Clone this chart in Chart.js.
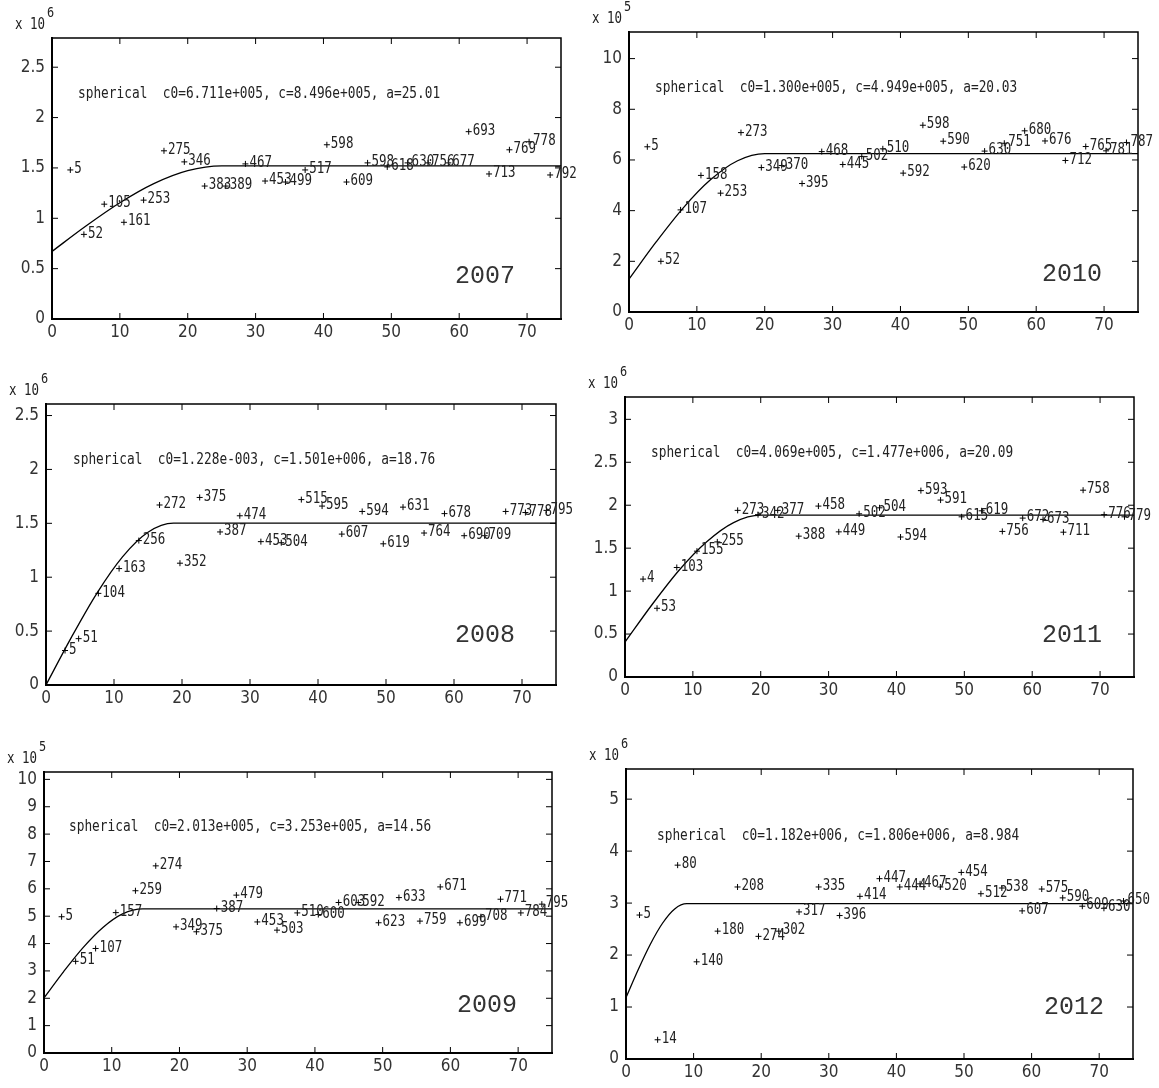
<!DOCTYPE html>
<html>
<head>
<meta charset="utf-8">
<script src="https://cdn.jsdelivr.net/npm/chart.js@4.4.1/dist/chart.umd.min.js"></script>
<style>
  body { margin: 0; background: #fff; overflow: hidden; width: 1159px; height: 1088px; position: relative; }
  canvas { position: absolute; }
</style>
</head>
<body>
<canvas id="c2007"></canvas>
<canvas id="c2010"></canvas>
<canvas id="c2008"></canvas>
<canvas id="c2011"></canvas>
<canvas id="c2009"></canvas>
<canvas id="c2012"></canvas>
<script>
// lag distance on x for every panel
const xTicks = [0, 10, 20, 30, 40, 50, 60, 70];

// 2007 (x 10^6)
const lag07 = [2.7, 4.7, 7.7, 10.6, 13.5, 16.5, 19.5, 22.5, 25.6, 28.5, 31.4, 34.4, 37.3, 40.5, 43.4, 46.5, 49.4, 52.4, 55.4, 58.4, 61.4, 64.4, 67.4, 70.3, 73.4];
const gam07 = [1.48, 0.84, 1.14, 0.96, 1.18, 1.67, 1.56, 1.32, 1.32, 1.54, 1.37, 1.36, 1.48, 1.73, 1.36, 1.55, 1.51, 1.55, 1.55, 1.55, 1.86, 1.44, 1.68, 1.76, 1.43];
const pairs07 = [5, 52, 105, 161, 253, 275, 346, 383, 389, 467, 453, 499, 517, 598, 609, 598, 618, 630, 756, 677, 693, 713, 769, 778, 792];
const curveX07 = [0, 5, 10, 15, 20, 25, 75];
const curveY07 = [0.671, 0.923, 1.154, 1.344, 1.473, 1.521, 1.521];
const yTicks07 = [0, 0.5, 1, 1.5, 2, 2.5];

// 2010 (x 10^5)
const lag10 = [2.7, 4.7, 7.6, 10.6, 13.5, 16.5, 19.5, 22.5, 25.5, 28.4, 31.5, 34.3, 37.4, 40.4, 43.3, 46.3, 49.4, 52.4, 55.3, 58.3, 61.3, 64.3, 67.3, 70.3, 73.3];
const gam10 = [6.52, 2.0, 4.03, 5.39, 4.69, 7.08, 5.70, 5.78, 5.07, 6.33, 5.82, 6.14, 6.44, 5.48, 7.37, 6.74, 5.72, 6.35, 6.66, 7.15, 6.75, 5.98, 6.53, 6.36, 6.69];
const pairs10 = [5, 52, 107, 158, 253, 273, 349, 370, 395, 468, 445, 502, 510, 592, 598, 590, 620, 630, 751, 680, 676, 712, 765, 781, 787];
const curveX10 = [0, 4, 8, 12, 16, 20, 75];
const curveY10 = [1.30, 2.765, 4.111, 5.215, 5.968, 6.249, 6.249];
const yTicks10 = [0, 2, 4, 6, 8, 10];

// 2008 (x 10^6)
const lag08 = [2.8, 4.8, 7.7, 10.75, 13.65, 16.7, 19.7, 22.6, 25.6, 28.5, 31.6, 34.6, 37.55, 40.6, 43.5, 46.5, 49.6, 52.5, 55.6, 58.6, 61.5, 64.5, 67.6, 70.5, 73.6];
const gam08 = [0.32, 0.43, 0.85, 1.08, 1.34, 1.67, 1.13, 1.74, 1.42, 1.57, 1.33, 1.32, 1.72, 1.66, 1.40, 1.61, 1.31, 1.65, 1.41, 1.59, 1.385, 1.385, 1.61, 1.60, 1.62];
const pairs08 = [5, 51, 104, 163, 256, 272, 352, 375, 387, 474, 453, 504, 515, 595, 607, 594, 619, 631, 764, 678, 690, 709, 773, 778, 795];
const curveX08 = [0, 3.75, 7.5, 11.25, 15, 18.75, 75];
const curveY08 = [0, 0.444, 0.853, 1.189, 1.417, 1.501, 1.501];
const yTicks08 = [0, 0.5, 1, 1.5, 2, 2.5];

// 2011 (x 10^6)
const lag11 = [2.66, 4.72, 7.63, 10.6, 13.6, 16.6, 19.6, 22.5, 25.6, 28.5, 31.5, 34.5, 37.5, 40.6, 43.6, 46.5, 49.6, 52.55, 55.6, 58.6, 61.6, 64.6, 67.5, 70.6, 73.6];
const gam11 = [1.14, 0.80, 1.275, 1.465, 1.573, 1.94, 1.89, 1.94, 1.64, 1.99, 1.69, 1.90, 1.97, 1.63, 2.17, 2.06, 1.865, 1.935, 1.695, 1.85, 1.835, 1.686, 2.175, 1.89, 1.865];
const pairs11 = [4, 53, 103, 155, 255, 273, 342, 377, 388, 458, 449, 502, 504, 594, 593, 591, 615, 619, 756, 672, 673, 711, 758, 776, 779];
const curveX11 = [0, 4, 8, 12, 16, 20, 75];
const curveY11 = [0.407, 0.844, 1.246, 1.572, 1.798, 1.884, 1.884];
const yTicks11 = [0, 0.5, 1, 1.5, 2, 2.5, 3];

// 2009 (x 10^5)
const lag09 = [2.6, 4.67, 7.62, 10.6, 13.5, 16.5, 19.5, 22.5, 25.5, 28.4, 31.5, 34.4, 37.4, 40.5, 43.5, 46.4, 49.4, 52.4, 55.5, 58.5, 61.4, 64.5, 67.4, 70.4, 73.5];
const gam09 = [4.98, 3.35, 3.82, 5.13, 5.93, 6.84, 4.61, 4.43, 5.28, 5.77, 4.79, 4.49, 5.12, 5.06, 5.50, 5.50, 4.76, 5.68, 4.82, 6.07, 4.76, 4.98, 5.62, 5.12, 5.44];
const pairs09 = [5, 51, 107, 157, 259, 274, 349, 375, 387, 479, 453, 503, 510, 600, 603, 592, 623, 633, 759, 671, 699, 708, 771, 784, 795];
const curveX09 = [0, 2.9, 5.8, 8.7, 11.6, 14.6, 75];
const curveY09 = [2.013, 2.976, 3.861, 4.589, 5.084, 5.266, 5.266];
const yTicks09 = [0, 1, 2, 3, 4, 5, 6, 7, 8, 9, 10];

// 2012 (x 10^6)
const lag12 = [2.0, 4.68, 7.64, 10.45, 13.56, 16.5, 19.6, 22.6, 25.6, 28.5, 31.6, 34.6, 37.5, 40.5, 43.5, 46.5, 49.6, 52.5, 55.6, 58.6, 61.5, 64.6, 67.5, 70.7, 73.6];
const gam12 = [2.77, 0.37, 3.73, 1.87, 2.46, 3.31, 2.36, 2.46, 2.83, 3.31, 2.76, 3.13, 3.47, 3.31, 3.37, 3.31, 3.59, 3.18, 3.29, 2.85, 3.27, 3.10, 2.94, 2.90, 3.04];
const pairs12 = [5, 14, 80, 140, 180, 208, 274, 302, 317, 335, 396, 414, 447, 444, 467, 520, 454, 512, 538, 607, 575, 590, 609, 630, 650];
const curveX12 = [0, 1.8, 3.6, 5.4, 7.2, 9, 75];
const curveY12 = [1.182, 1.717, 2.208, 2.612, 2.887, 2.988, 2.988];
const yTicks12 = [0, 1, 2, 3, 4, 5];

const PAD_L = 50, PAD_T = 40, PAD_R = 40, PAD_B = 30;
const MONO = '"DejaVu Sans Mono", monospace';
const NARROW = '"Liberation Sans Narrow", "DejaVu Sans Condensed", "DejaVu Sans Mono", sans-serif';

// box with inward ticks on all four sides
const framePlugin = {
  id: 'frame',
  afterDatasetsDraw(chart) {
    const a = chart.chartArea, ctx = chart.ctx;
    const xs = chart.scales.x, ys = chart.scales.y;
    ctx.save();
    ctx.strokeStyle = '#000';
    ctx.lineWidth = 1;
    ctx.beginPath();
    xs.ticks.forEach(t => {
      const px = xs.getPixelForValue(t.value);
      if (px <= a.left + 2) return;
      ctx.moveTo(px, a.bottom); ctx.lineTo(px, a.bottom - 6);
      ctx.moveTo(px, a.top); ctx.lineTo(px, a.top + 6);
    });
    ys.ticks.forEach(t => {
      const py = ys.getPixelForValue(t.value);
      if (py >= a.bottom - 2) return;
      ctx.moveTo(a.left, py); ctx.lineTo(a.left + 6, py);
      ctx.moveTo(a.right, py); ctx.lineTo(a.right - 6, py);
    });
    ctx.stroke();
    ctx.lineWidth = 1.5;
    ctx.beginPath();
    ctx.moveTo(a.left, a.top); ctx.lineTo(a.right, a.top); ctx.lineTo(a.right, a.bottom);
    ctx.stroke();
    ctx.lineWidth = 2;
    ctx.beginPath();
    ctx.moveTo(a.left, a.top - 1); ctx.lineTo(a.left, a.bottom); ctx.lineTo(a.right + 1, a.bottom);
    ctx.stroke();
    ctx.restore();
  }
};

// number of pairs written next to each point
const labelPlugin = {
  id: 'pairLabels',
  afterDatasetsDraw(chart) {
    const meta = chart.getDatasetMeta(0);
    const pairs = chart.data.datasets[0].pairs;
    const ctx = chart.ctx;
    ctx.save();
    ctx.font = '16px ' + MONO;
    ctx.fillStyle = '#222';
    ctx.textBaseline = 'middle';
    meta.data.forEach((pt, i) => {
      ctx.save();
      ctx.translate(pt.x + 4, pt.y - 1);
      ctx.scale(0.78, 1);
      ctx.fillText(String(pairs[i]), 0, 0);
      ctx.restore();
    });
    ctx.restore();
  }
};

// model text, year and exponent
const textPlugin = {
  id: 'panelText',
  afterDraw(chart, args, o) {
    const a = chart.chartArea, ctx = chart.ctx;
    ctx.save();
    ctx.fillStyle = '#222';
    ctx.textBaseline = 'middle';

    ctx.font = '16px ' + MONO;
    ctx.save();
    ctx.translate(a.left + o.noteDx, a.top + o.noteDy);
    ctx.scale(0.8, 1);
    ctx.fillText(o.note, 0, 0);
    ctx.restore();

    ctx.font = '25px "Liberation Mono", monospace';
    ctx.fillStyle = '#333';
    ctx.textAlign = 'right';
    ctx.fillText(o.year, a.right + o.yearDx, a.bottom + o.yearDy);

    ctx.fillStyle = '#222';
    ctx.textAlign = 'left';
    ctx.font = '16px ' + MONO;
    ctx.save();
    ctx.translate(a.left - 37, a.top - 13);
    ctx.scale(0.78, 1);
    ctx.fillText('x 10', 0, 0);
    const w = ctx.measureText('x 10').width * 0.78;
    ctx.restore();
    ctx.font = '14px ' + MONO;
    ctx.save();
    ctx.translate(a.left - 37 + w + 2, a.top - 25);
    ctx.scale(0.85, 1);
    ctx.fillText(o.exp, 0, 0);
    ctx.restore();
    ctx.restore();
  }
};

function toXY(xs, ys) {
  return xs.map((x, i) => ({ x: x, y: ys[i] }));
}

function makePanel(id, p) {
  const cv = document.getElementById(id);
  cv.width = p.w + PAD_L + PAD_R;
  cv.height = p.h + PAD_T + PAD_B;
  cv.style.left = (p.left - PAD_L) + 'px';
  cv.style.top = (p.top - PAD_T) + 'px';

  new Chart(cv.getContext('2d'), {
    type: 'scatter',
    data: {
      datasets: [
        {
          data: toXY(p.lag, p.gam),
          pairs: p.pairs,
          pointStyle: 'cross',
          pointRadius: 3,
          pointBorderWidth: 1,
          borderColor: '#000',
          backgroundColor: '#000',
          showLine: false
        },
        {
          data: toXY(p.cx, p.cy),
          showLine: true,
          pointRadius: 0,
          borderColor: '#000',
          borderWidth: 1.3,
          cubicInterpolationMode: 'monotone',
          fill: false
        }
      ]
    },
    options: {
      responsive: false,
      animation: false,
      devicePixelRatio: 1,
      layout: { padding: { left: 0, top: PAD_T, right: PAD_R, bottom: 0 } },
      plugins: {
        legend: { display: false },
        tooltip: { enabled: false },
        panelText: { note: p.note, noteDx: p.noteDx, noteDy: p.noteDy, year: p.year, yearDx: p.yearDx, yearDy: p.yearDy, exp: p.exp }
      },
      scales: {
        x: {
          type: 'linear', min: 0, max: 75,
          afterBuildTicks: ax => { ax.ticks = xTicks.map(v => ({ value: v })); },
          afterFit: s => { s.height = PAD_B; },
          grid: { display: false, drawTicks: false },
          border: { display: false },
          ticks: { color: '#333', padding: 3, maxRotation: 0, font: { family: NARROW, size: 17 }, callback: v => String(v) }
        },
        y: {
          type: 'linear', min: 0, max: p.ymax,
          afterBuildTicks: ax => { ax.ticks = p.yTicks.map(v => ({ value: v })); },
          afterFit: s => { s.width = PAD_L; },
          grid: { display: false, drawTicks: false },
          border: { display: false },
          ticks: { color: '#333', padding: 7, font: { family: NARROW, size: 17 }, callback: v => String(v) }
        }
      }
    },
    plugins: [framePlugin, labelPlugin, textPlugin]
  });
}

makePanel('c2007', { left: 52, top: 38, w: 509, h: 281, ymax: 2.79, lag: lag07, gam: gam07, pairs: pairs07, cx: curveX07, cy: curveY07, yTicks: yTicks07,
  note: 'spherical  c0=6.711e+005, c=8.496e+005, a=25.01', noteDx: 26, noteDy: 56, year: '2007', yearDx: -46, yearDy: -43, exp: '6' });
makePanel('c2010', { left: 629, top: 32, w: 509, h: 280, ymax: 11.05, lag: lag10, gam: gam10, pairs: pairs10, cx: curveX10, cy: curveY10, yTicks: yTicks10,
  note: 'spherical  c0=1.300e+005, c=4.949e+005, a=20.03', noteDx: 26, noteDy: 56, year: '2010', yearDx: -36, yearDy: -38, exp: '5' });
makePanel('c2008', { left: 46, top: 404, w: 510, h: 281, ymax: 2.607, lag: lag08, gam: gam08, pairs: pairs08, cx: curveX08, cy: curveY08, yTicks: yTicks08,
  note: 'spherical  c0=1.228e-003, c=1.501e+006, a=18.76', noteDx: 27, noteDy: 56, year: '2008', yearDx: -41, yearDy: -50, exp: '6' });
makePanel('c2011', { left: 625, top: 397, w: 509, h: 280, ymax: 3.26, lag: lag11, gam: gam11, pairs: pairs11, cx: curveX11, cy: curveY11, yTicks: yTicks11,
  note: 'spherical  c0=4.069e+005, c=1.477e+006, a=20.09', noteDx: 26, noteDy: 56, year: '2011', yearDx: -32, yearDy: -42, exp: '6' });
makePanel('c2009', { left: 44, top: 772, w: 508, h: 281, ymax: 10.27, lag: lag09, gam: gam09, pairs: pairs09, cx: curveX09, cy: curveY09, yTicks: yTicks09,
  note: 'spherical  c0=2.013e+005, c=3.253e+005, a=14.56', noteDx: 25, noteDy: 55, year: '2009', yearDx: -35, yearDy: -48, exp: '5' });
makePanel('c2012', { left: 626, top: 769, w: 507, h: 290, ymax: 5.58, lag: lag12, gam: gam12, pairs: pairs12, cx: curveX12, cy: curveY12, yTicks: yTicks12,
  note: 'spherical  c0=1.182e+006, c=1.806e+006, a=8.984', noteDx: 31, noteDy: 67, year: '2012', yearDx: -29, yearDy: -52, exp: '6' });
</script>
</body>
</html>
